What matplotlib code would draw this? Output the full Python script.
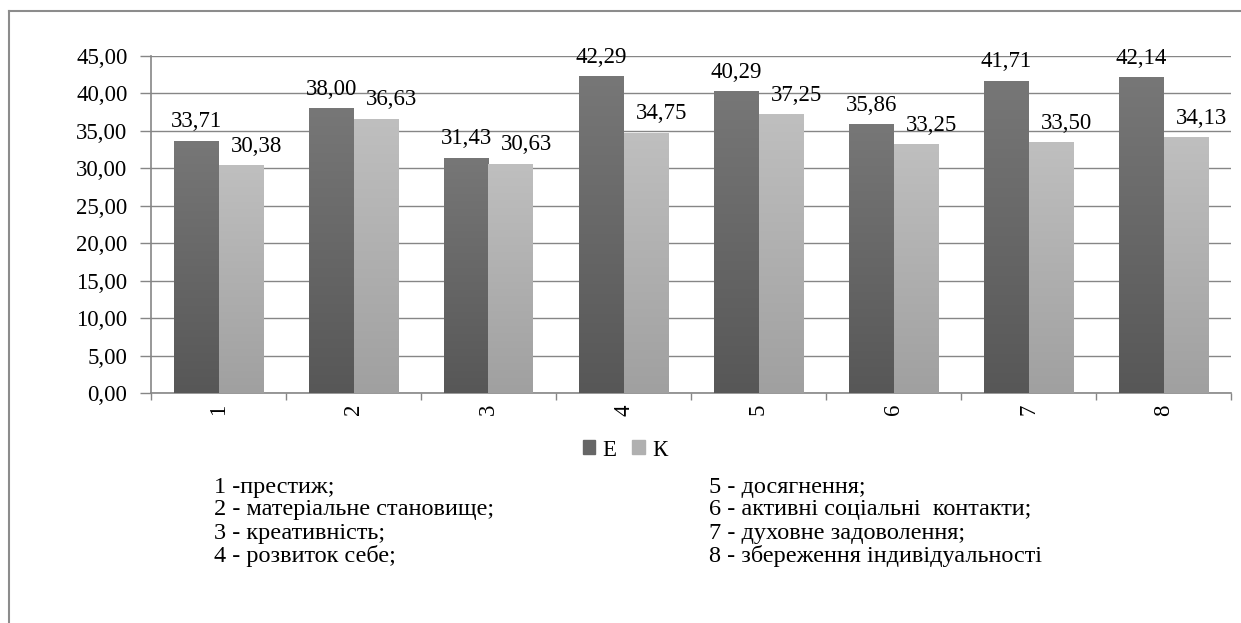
import numpy as np
import matplotlib.pyplot as plt
from matplotlib.lines import Line2D
from matplotlib.patches import Rectangle
from matplotlib.colors import LinearSegmentedColormap

plt.rcParams['font.family'] = ['Liberation Serif', 'DejaVu Serif']

categories = ['1', '2', '3', '4', '5', '6', '7', '8']
valuesE = [33.71, 38.00, 31.43, 42.29, 40.29, 35.86, 41.71, 42.14]
valuesK = [30.38, 36.63, 30.63, 34.75, 37.25, 33.25, 33.50, 34.13]
seriesNames = ['Е', 'К']
yTicks = [0, 5, 10, 15, 20, 25, 30, 35, 40, 45]
notesLeft = ['1 -престиж;', '2 - матеріальне становище;',
             '3 - креативність;', '4 - розвиток себе;']
notesRight = ['5 - досягнення;', '6 - активні соціальні  контакти;',
              '7 - духовне задоволення;', '8 - збереження індивідуальності']

gridColor = '#868686'
tickSize = 16.5
noteSize = 17.5


def commaFormat(v):
    return f"{v:.2f}".replace('.', ',')


def fillGradient(ax, bars, topColor, bottomColor):
    cmap = LinearSegmentedColormap.from_list('grad', [topColor, bottomColor])
    grad = np.linspace(0, 1, 256).reshape(-1, 1)
    for bar in bars:
        x, y = bar.get_x(), bar.get_y()
        w, h = bar.get_width(), bar.get_height()
        im = ax.imshow(grad, extent=[x, x + w, y, y + h], origin='upper',
                       aspect='auto', cmap=cmap, zorder=3)
        im.set_clip_path(bar)


fig = plt.figure(figsize=(12.41, 6.23), dpi=100)
ax = fig.add_axes([151 / 1241, 1 - 393 / 623, (1231 - 151) / 1241, (393 - 56) / 623])

x = np.arange(len(categories))
w = 0.326
barsE = ax.bar(x - w / 2, valuesE, w, color='#666666', zorder=2, linewidth=0)
barsK = ax.bar(x + w / 2, valuesK, w, color='#b0b0b0', zorder=2, linewidth=0)
fillGradient(ax, barsE, '#777777', '#575757')
fillGradient(ax, barsK, '#bfbfbf', '#a0a0a0')

for xi, v in zip(x, valuesE):
    ax.annotate(commaFormat(v), (xi - w / 2, v), xytext=(0, 6),
                textcoords='offset points', ha='center', va='bottom', fontsize=tickSize)
for xi, v in zip(x, valuesK):
    ax.annotate(commaFormat(v), (xi + w / 2 + 0.12, v), xytext=(0, 6),
                textcoords='offset points', ha='center', va='bottom', fontsize=tickSize)

ax.set_xlim(-0.5, len(categories) - 0.5)
ax.set_ylim(0, 45)
ax.set_yticks(yTicks)
ax.set_yticklabels([commaFormat(v) for v in yTicks], fontsize=tickSize)
ax.yaxis.grid(True, color=gridColor, linewidth=1)
ax.set_axisbelow(True)
ax.tick_params(axis='y', direction='out', length=8, color=gridColor, width=1, pad=9)

ax.set_xticks(x)
ax.set_xticklabels(categories, rotation=90, fontsize=tickSize)
ax.set_xticks(np.arange(len(categories) + 1) - 0.5, minor=True)
ax.tick_params(axis='x', which='major', length=0, pad=8)
ax.tick_params(axis='x', which='minor', direction='out', length=5, color=gridColor, width=1)

for side in ['top', 'right']:
    ax.spines[side].set_visible(False)
for side in ['left', 'bottom']:
    ax.spines[side].set_color(gridColor)
    ax.spines[side].set_linewidth(1.2)

handles = [Rectangle((0, 0), 1, 1, color='#666666'),
           Rectangle((0, 0), 1, 1, color='#b0b0b0')]
fig.legend(handles, seriesNames, loc='center', bbox_to_anchor=(625 / 1241, 1 - 450 / 623),
           ncol=2, frameon=False, fontsize=tickSize, handlelength=0.55, handleheight=0.55,
           handletextpad=0.3, columnspacing=0.7)

lineY = [487, 510, 533, 556]
for txt, yy in zip(notesLeft, lineY):
    fig.text(214 / 1241, 1 - yy / 623, txt, fontsize=noteSize, va='center', ha='left')
for txt, yy in zip(notesRight, lineY):
    fig.text(709 / 1241, 1 - yy / 623, txt, fontsize=noteSize, va='center', ha='left')

fig.add_artist(Line2D([8.5 / 1241, 8.5 / 1241], [0, 1 - 10.5 / 623],
                      color='#8c8c8c', linewidth=1.5, transform=fig.transFigure))
fig.add_artist(Line2D([8.5 / 1241, 1], [1 - 10.5 / 623, 1 - 10.5 / 623],
                      color='#8c8c8c', linewidth=1.5, transform=fig.transFigure))

fig.savefig('out.png', dpi=100, facecolor='white')
